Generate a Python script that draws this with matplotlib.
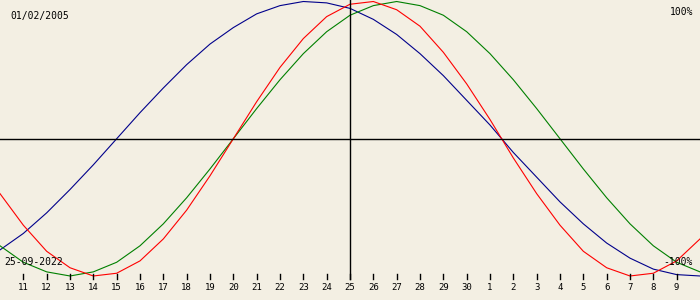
import matplotlib
matplotlib.use("Agg")
import matplotlib.pyplot as plt

# =========================
# DATA (one point per day)
# =========================
day_labels = ["10", "11", "12", "13", "14", "15", "16", "17", "18", "19", "20",
              "21", "22", "23", "24", "25", "26", "27", "28", "29", "30",
              "1", "2", "3", "4", "5", "6", "7", "8", "9", "10"]

# physical (red), emotional (green), intellectual (blue), -1..1
physical = [-0.40, -0.63, -0.82, -0.94, -1.00, -0.98, -0.89, -0.73, -0.52, -0.27,
            0.00, 0.27, 0.52, 0.73, 0.89, 0.98, 1.00, 0.94, 0.82, 0.63,
            0.40, 0.14, -0.14, -0.40, -0.63, -0.82, -0.94, -1.00, -0.98, -0.89,
            -0.73]
emotional = [-0.78, -0.90, -0.97, -1.00, -0.97, -0.90, -0.78, -0.62, -0.43, -0.22,
             0.00, 0.22, 0.43, 0.62, 0.78, 0.90, 0.97, 1.00, 0.97, 0.90,
             0.78, 0.62, 0.43, 0.22, 0.00, -0.22, -0.43, -0.62, -0.78, -0.90,
             -0.97]
intellectual = [-0.81, -0.69, -0.54, -0.37, -0.19, 0.00, 0.19, 0.37, 0.54, 0.69,
                0.81, 0.91, 0.97, 1.00, 0.99, 0.95, 0.87, 0.76, 0.62, 0.46,
                0.28, 0.10, -0.10, -0.28, -0.46, -0.62, -0.76, -0.87, -0.95, -0.99,
                -1.00]

birth_date = "01/02/2005"
target_date = "25-09-2022"
center_day = 15

# =========================
# PLOT
# =========================
bg = "#F3EFE3"
fig = plt.figure(figsize=(7, 3), dpi=100, facecolor=bg)
ax = fig.add_axes([0, 0, 1, 1])
ax.set_facecolor(bg)
ax.set_xlim(0, len(day_labels) - 1)
ax.set_ylim(-1.175, 1.011)
ax.axis("off")

x = list(range(len(day_labels)))
ax.plot(x, intellectual, color="#00008B", lw=0.8)
ax.plot(x, emotional, color="#008000", lw=0.8)
ax.plot(x, physical, color="#FF0000", lw=0.8)

# axes lines
ax.axhline(0, color="black", lw=1)
ax.axvline(center_day, ymin=0.07, ymax=1, color="black", lw=1)

# day ticks + labels
xt = ax.get_xaxis_transform()
for i in range(1, len(day_labels) - 1):
    ax.plot([i, i], [0.07, 0.087], color="black", lw=1, transform=xt)
    ax.text(i, 0.04, day_labels[i], transform=xt, ha="center", va="center",
            fontsize=6.5, family="DejaVu Sans Mono")

# corner texts
fnt = dict(fontsize=7, family="DejaVu Sans Mono")
fig.text(10 / 700, 1 - 16 / 300, birth_date, ha="left", va="center", **fnt)
fig.text(693 / 700, 1 - 12 / 300, "100%", ha="right", va="center", **fnt)
fig.text(4 / 700, 1 - 262 / 300, target_date, ha="left", va="center", **fnt)
fig.text(693 / 700, 1 - 262 / 300, "-100%", ha="right", va="center", **fnt)

fig.savefig("out.png", dpi=100, facecolor=bg)
